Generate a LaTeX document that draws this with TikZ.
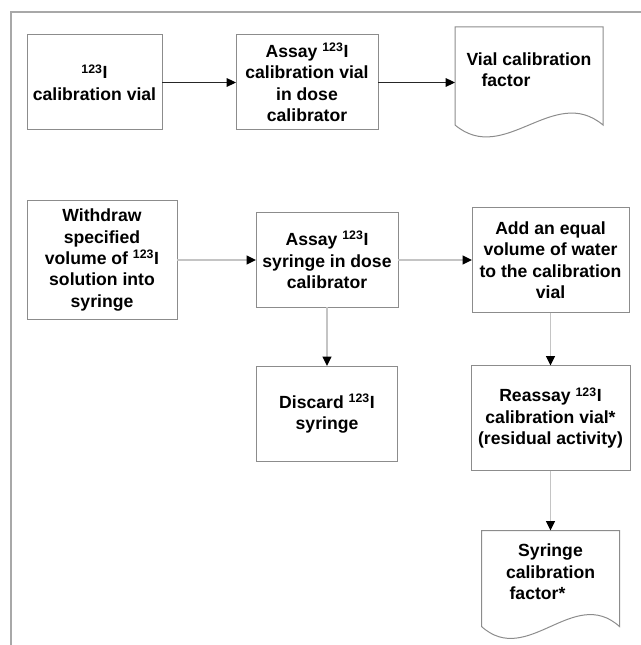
\documentclass[tikz,border=0pt]{standalone}
\usepackage{fontspec}
\setmainfont{Liberation Sans}
\usetikzlibrary{positioning,calc,arrows.meta}
\definecolor{boxgray}{HTML}{8C8C8C}
\definecolor{framegray}{HTML}{A8A8A8}
\definecolor{linkgray}{HTML}{C4C4C4}
\newcommand{\iod}{\textsuperscript{123}I}
% outline of a document node with a wavy lower edge
\newcommand{\docoutline}[1]{%
  \draw [boxgray, line width=0.75pt] (#1.north west) -- ([yshift=-9.75pt]#1.south west)
    .. controls ($(#1.south west)!0.333!(#1.south east)+(0pt,-40.75pt)$)
    and ($(#1.south west)!0.667!(#1.south east)+(0pt,21.25pt)$)
    .. ([yshift=-9.75pt]#1.south east) -- (#1.north east) -- cycle;}
\tikzset{
  block/.style={draw=boxgray, line width=0.75pt, rectangle, inner sep=0pt, outer sep=0pt, align=center},
  doc/.style={rectangle, inner sep=0pt, outer sep=0pt, align=center},
  link/.style={draw=black!85, line width=0.75pt, -{Triangle[length=7pt,width=6.5pt,color=black]}},
  lightlink/.style={link, draw=linkgray, line width=1.2pt},
}

\begin{document}
\begin{tikzpicture}[x=0.75pt, y=-0.75pt, font=\bfseries\fontsize{13.2pt}{16.1pt}\selectfont]
    \useasboundingbox (0,0) rectangle (641,645);
    \draw [framegray, line width=1.5pt] (11,645) -- (11,12) -- (641,12);

    % first row
    \node [block, minimum width=101.25pt, minimum height=71.25pt] (vial) at (94.5,82.5) {\iod\\calibration vial};
    \node [block, minimum width=106.5pt, minimum height=71.25pt, right=55.5pt of vial] (assayvial) {Assay \iod\\calibration vial\\in dose\\calibrator};
    \node [doc, minimum width=111pt, minimum height=63.75pt, align=left] (vialfactor) at (529,69.5) {Vial calibration\\\hspace*{0.85em}factor};
    \docoutline{vialfactor}

    % second row
    \node [block, minimum width=112.5pt, minimum height=88.5pt] (withdraw) at (102,260) {Withdraw\\specified\\volume of \iod\\solution into\\syringe};
    \node [block, minimum width=106.5pt, minimum height=70.5pt, right=59.25pt of withdraw] (assaysyr) {Assay \iod\\syringe in dose\\calibrator};
    \node [block, minimum width=117.75pt, minimum height=78.75pt, right=55.5pt of assaysyr] (addwater) {Add an equal\\volume of water\\to the calibration\\vial};

    \node [block, minimum width=105.75pt, minimum height=71.25pt, below=44.25pt of assaysyr] (discard) {Discard \iod\\syringe};
    \node [block, minimum width=119.25pt, minimum height=78.75pt, below=39.75pt of addwater] (reassay) {Reassay \iod\\calibration vial*\\(residual activity)};
    \node [doc, minimum width=103.5pt, minimum height=62.25pt, below=45pt of reassay] (syrfactor) {Syringe\\calibration\\factor*\hspace*{19.5pt}};
    \docoutline{syrfactor}

    \draw [link] (vial) -- (assayvial);
    \draw [link] (assayvial) -- (assayvial -| vialfactor.west);
    \draw [lightlink] (withdraw) -- (assaysyr);
    \draw [lightlink] (assaysyr) -- (assaysyr -| addwater.west);
    \draw [lightlink] (assaysyr) -- (discard);
    \draw [lightlink] (addwater) -- (reassay);
    \draw [lightlink] (reassay) -- (syrfactor);
\end{tikzpicture}
\end{document}
